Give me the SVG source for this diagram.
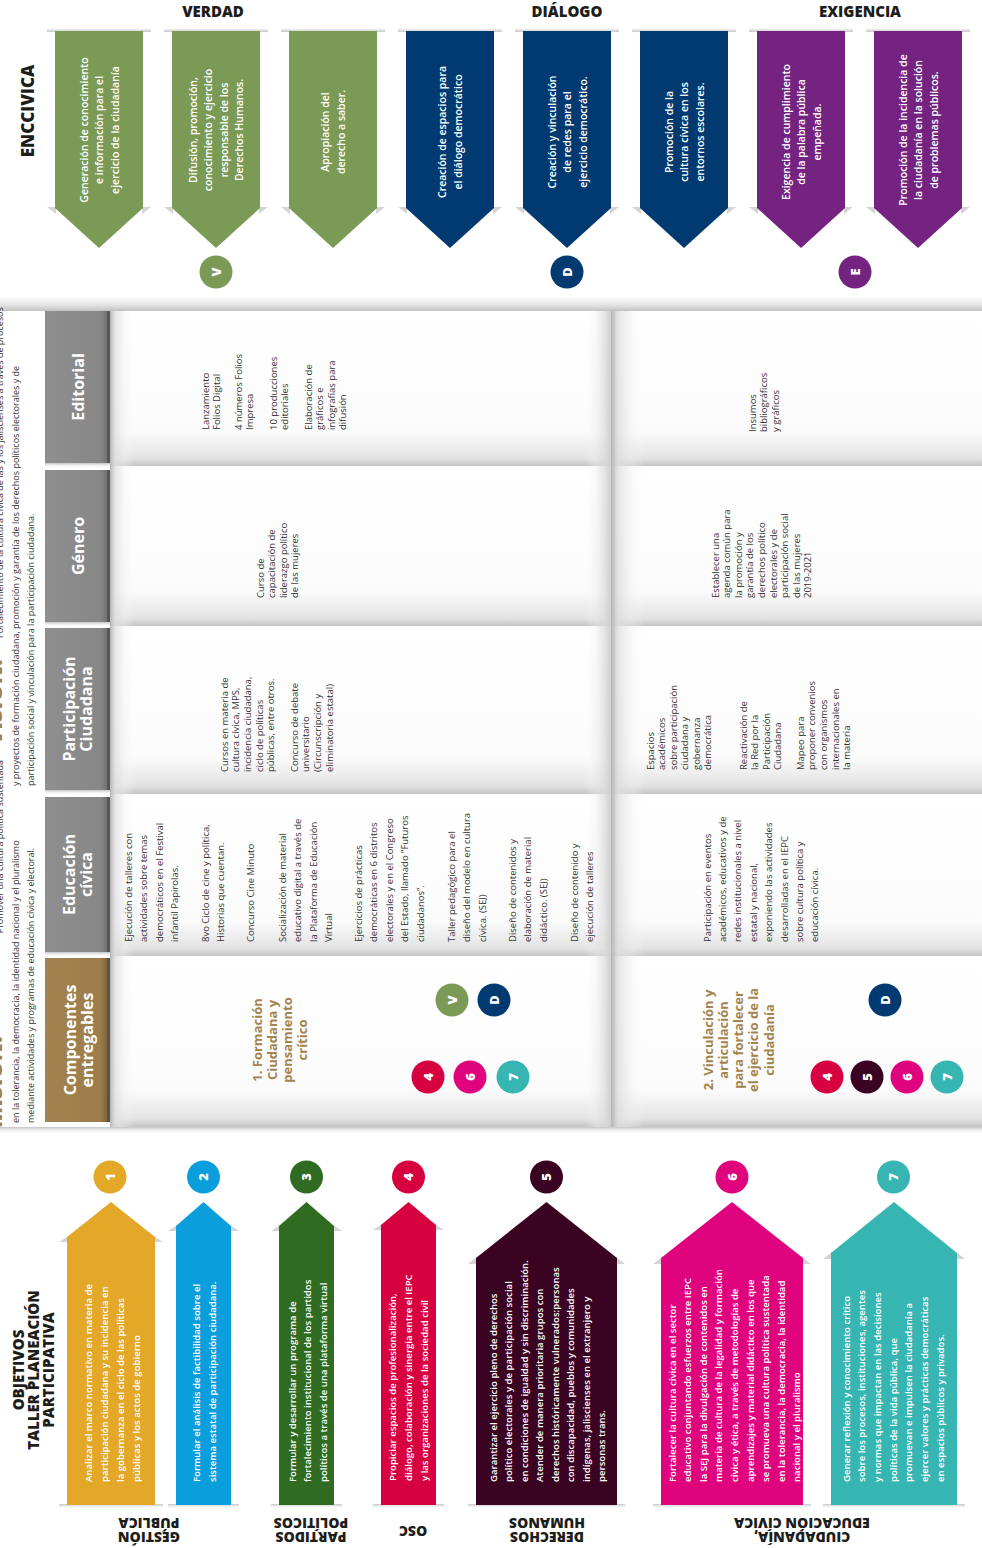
<svg xmlns="http://www.w3.org/2000/svg" width="982" height="1548" viewBox="0 0 982 1548">
<defs>
<style>
text{font-family:'Open Sans','Liberation Sans',sans-serif}
.ttl{font-size:15px;font-weight:800;fill:#1d1d1b;text-anchor:middle}
.ban{font-size:10.5px;font-weight:600;fill:#fff;text-anchor:middle}
.hdr{font-size:16px;font-weight:700;fill:#fff;text-anchor:middle}
.cell{font-size:9.5px;fill:#333}
.comp{font-size:13px;font-weight:700;fill:#a3844f;text-anchor:middle}
.obj{font-size:9.6px;font-weight:600;fill:#fff}
.num{font-size:13px;font-weight:800;fill:#fff;text-anchor:middle}
.lbl{font-size:14px;font-weight:800;fill:#1d1d1b;text-anchor:middle}
.mv{font-size:9px;fill:#333}
.mvb{font-size:22px;font-weight:800;fill:#a0804f}
.gr{fill:#7b9a55}.bl{fill:#003a70}.pu{fill:#752380}
.c1{fill:#e3a827}.c2{fill:#0b9edd}.c3{fill:#2f6b21}.c4{fill:#d7013f}.c5{fill:#3a0321}.c6{fill:#df047d}.c7{fill:#37b5b2}
.fold{fill:url(#foldG)}
.wing{fill:#d4d4d4}
.shd{fill:url(#shdG)}
.hbox{fill:url(#hdrG)}
.row{fill:url(#rowG)}
.edgeL{fill:url(#edgeLG)}
.edgeR{fill:url(#edgeRG)}
.hedge{fill:#4d4d4d;opacity:.7}
</style>
<linearGradient id="foldG" x1="0" y1="0" x2="0" y2="1"><stop offset="0" stop-color="#fff"/><stop offset="1" stop-color="#c8c8c8"/></linearGradient>
<linearGradient id="shdG" x1="0" y1="0" x2="0" y2="1"><stop offset="0" stop-color="#c4c4c4"/><stop offset="1" stop-color="#fff" stop-opacity="0"/></linearGradient>
<linearGradient id="topG" x1="0" y1="0" x2="0" y2="1"><stop offset="0" stop-color="#fff"/><stop offset="0.6" stop-color="#e4e4e4"/><stop offset="1" stop-color="#c2c2c2"/></linearGradient>
<linearGradient id="rowG" x1="0" y1="0" x2="0" y2="1"><stop offset="0" stop-color="#fff"/><stop offset="0.78" stop-color="#fbfbfb"/><stop offset="0.95" stop-color="#e3e3e3"/><stop offset="1" stop-color="#c4c4c4"/></linearGradient>
<linearGradient id="edgeLG" x1="0" y1="0" x2="1" y2="0"><stop offset="0" stop-color="#b4b4b4"/><stop offset="0.2" stop-color="#dcdcdc" stop-opacity="0.8"/><stop offset="1" stop-color="#fff" stop-opacity="0"/></linearGradient>
<linearGradient id="edgeRG" x1="0" y1="0" x2="1" y2="0"><stop offset="0" stop-color="#fff" stop-opacity="0"/><stop offset="1" stop-color="#cfcfcf"/></linearGradient>
<linearGradient id="hdrG" x1="0" y1="0" x2="1" y2="0"><stop offset="0" stop-color="#8f8f8f"/><stop offset="0.85" stop-color="#878787"/><stop offset="1" stop-color="#6a6a6a"/></linearGradient>
<linearGradient id="compG" x1="0" y1="0" x2="1" y2="0"><stop offset="0" stop-color="#a3834f"/><stop offset="0.85" stop-color="#9c7d4b"/><stop offset="1" stop-color="#735b37"/></linearGradient>
<clipPath id="mvClip"><rect x="-60" y="300" width="120" height="830"/></clipPath>
</defs>
<rect x="0" y="0" width="982" height="1548" fill="#fff"/>

<!-- ENCCIVICA section -->
<g id="enccivica-title"><text transform="translate(34,111) rotate(-90)" style="font-size:17px;font-weight:800;fill:#1d1d1b;text-anchor:middle">ENCCIVICA</text></g>
<g id="group-titles">
<text class="ttl" x="213" y="17">VERDAD</text>
<text class="ttl" x="567" y="17">DIÁLOGO</text>
<text class="ttl" x="860" y="17">EXIGENCIA</text>
</g>

<g id="banner-1">
<rect class="fold" x="47" y="28" width="104" height="4"/>
<polygon class="wing" points="47,207 56,207 56,214"/><polygon class="wing" points="151,207 142,207 142,214"/>
<path class="gr" d="M55 31H143V208L99 248L55 208Z"/>
<text class="ban" transform="translate(87.5,130) rotate(-90)"><tspan x="0">Generación de conocimiento</tspan><tspan x="0" dy="15.5">e información para el</tspan><tspan x="0" dy="15.5">ejercicio de la ciudadanía</tspan></text>
</g>
<g id="banner-2">
<rect class="fold" x="164" y="28" width="104" height="4"/>
<polygon class="wing" points="164,207 173,207 173,214"/><polygon class="wing" points="268,207 259,207 259,214"/>
<path class="gr" d="M172 31H260V208L216 248L172 208Z"/>
<text class="ban" transform="translate(196.5,130) rotate(-90)"><tspan x="0">Difusión, promoción,</tspan><tspan x="0" dy="15.5">conocimiento y ejercicio</tspan><tspan x="0" dy="15.5">responsable de los</tspan><tspan x="0" dy="15.5">Derechos Humanos.</tspan></text>
</g>
<g id="banner-3">
<rect class="fold" x="281" y="28" width="104" height="4"/>
<polygon class="wing" points="281,207 290,207 290,214"/><polygon class="wing" points="385,207 376,207 376,214"/>
<path class="gr" d="M289 31H377V208L333 248L289 208Z"/>
<text class="ban" transform="translate(329,132) rotate(-90)"><tspan x="0">Apropiación del</tspan><tspan x="0" dy="15.5">derecho a saber.</tspan></text>
</g>
<g id="banner-4">
<rect class="fold" x="398" y="28" width="104" height="4"/>
<polygon class="wing" points="398,207 407,207 407,214"/><polygon class="wing" points="502,207 493,207 493,214"/>
<path class="bl" d="M406 31H494V208L450 248L406 208Z"/>
<text class="ban" transform="translate(446,132) rotate(-90)"><tspan x="0">Creación de espacios para</tspan><tspan x="0" dy="15.5">el diálogo democrático</tspan></text>
</g>
<g id="banner-5">
<rect class="fold" x="515" y="28" width="104" height="4"/>
<polygon class="wing" points="515,207 524,207 524,214"/><polygon class="wing" points="619,207 610,207 610,214"/>
<path class="bl" d="M523 31H611V208L567 248L523 208Z"/>
<text class="ban" transform="translate(555.5,132) rotate(-90)"><tspan x="0">Creación y vinculación</tspan><tspan x="0" dy="15.5">de redes para el</tspan><tspan x="0" dy="15.5">ejercicio democrático.</tspan></text>
</g>
<g id="banner-6">
<rect class="fold" x="632" y="28" width="104" height="4"/>
<polygon class="wing" points="632,207 641,207 641,214"/><polygon class="wing" points="736,207 727,207 727,214"/>
<path class="bl" d="M640 31H728V208L684 248L640 208Z"/>
<text class="ban" transform="translate(672.5,132) rotate(-90)"><tspan x="0">Promoción de la</tspan><tspan x="0" dy="15.5">cultura cívica en los</tspan><tspan x="0" dy="15.5">entornos escolares.</tspan></text>
</g>
<g id="banner-7">
<rect class="fold" x="749" y="28" width="104" height="4"/>
<polygon class="wing" points="749,207 758,207 758,214"/><polygon class="wing" points="853,207 844,207 844,214"/>
<path class="pu" d="M757 31H845V208L801 248L757 208Z"/>
<text class="ban" transform="translate(789.5,132) rotate(-90)"><tspan x="0">Exigencia de cumplimiento</tspan><tspan x="0" dy="15.5">de la palabra pública</tspan><tspan x="0" dy="15.5">empeñada.</tspan></text>
</g>
<g id="banner-8">
<rect class="fold" x="866" y="28" width="104" height="4"/>
<polygon class="wing" points="866,207 875,207 875,214"/><polygon class="wing" points="970,207 961,207 961,214"/>
<path class="pu" d="M874 31H962V208L918 248L874 208Z"/>
<text class="ban" transform="translate(906.5,130) rotate(-90)"><tspan x="0">Promoción de la incidencia de</tspan><tspan x="0" dy="15.5">la ciudadanía en la solución</tspan><tspan x="0" dy="15.5">de problemas públicos.</tspan></text>
</g>
<g id="badge-v"><circle class="gr" cx="216" cy="272" r="16.5"/><text class="num" transform="translate(220.7,272) rotate(-90)">V</text></g>
<g id="badge-d"><circle class="bl" cx="567" cy="272" r="16.5"/><text class="num" transform="translate(571.7,272) rotate(-90)">D</text></g>
<g id="badge-e"><circle class="pu" cx="855" cy="272" r="16.5"/><text class="num" transform="translate(859.7,272) rotate(-90)">E</text></g>

<!-- Table background -->
<g id="table-bg">
<rect x="0" y="296" width="982" height="15" fill="url(#topG)"/>
<rect class="row" x="110" y="311" width="872" height="155"/>
<rect class="row" x="110" y="468" width="872" height="158"/>
<rect class="row" x="110" y="628" width="872" height="166"/>
<rect class="row" x="110" y="797" width="872" height="159"/>
<rect class="row" x="110" y="958" width="872" height="169"/>
<rect x="0" y="1127" width="982" height="7" class="shd"/>
<rect class="edgeR" x="585" y="311" width="26" height="816"/>
<rect class="edgeL" x="611" y="311" width="34" height="816"/>
<rect class="edgeL" x="110" y="311" width="24" height="816"/>
</g>

<!-- Mission / vision strip -->
<g id="mision-vision" clip-path="url(#mvClip)">
<text class="mvb" transform="translate(1.5,1128) rotate(-90)">MISIÓN:</text>
<text class="mv" transform="translate(3,760) rotate(-90)" text-anchor="end">Promover una cultura política sustentada</text>
<text class="mv" transform="translate(18.5,1123) rotate(-90)">en la tolerancia, la democracia, la identidad nacional y el pluralismo</text>
<text class="mv" transform="translate(33.5,1123) rotate(-90)">mediante actividades y programas de educación cívica y electoral.</text>
<text class="mvb" transform="translate(1.5,745) rotate(-90)">VISIÓN:</text>
<text class="mv" transform="translate(3,638) rotate(-90)">Fortalecimiento de la cultura cívica de las y los jaliscienses a través de procesos</text>
<text class="mv" transform="translate(18.5,786) rotate(-90)">y proyectos de formación ciudadana, promoción y garantía de los derechos políticos electorales y de</text>
<text class="mv" transform="translate(33.5,786) rotate(-90)">participación social y vinculación para la participación ciudadana.</text>
</g>

<!-- Row headers -->
<g id="hdr-editorial">
<rect class="hbox" x="45" y="311" width="65" height="152"/><rect class="hedge" x="107" y="311" width="3" height="152"/>
<rect class="shd" x="45" y="463" width="65" height="5"/>
<text class="hdr" transform="translate(83.8,387) rotate(-90)">Editorial</text>
</g>
<g id="hdr-genero">
<rect class="hbox" x="45" y="470" width="65" height="152"/><rect class="hedge" x="107" y="470" width="3" height="152"/>
<rect class="shd" x="45" y="622" width="65" height="5"/>
<text class="hdr" transform="translate(83.8,546) rotate(-90)">Género</text>
</g>
<g id="hdr-participacion">
<rect class="hbox" x="45" y="628" width="65" height="162"/><rect class="hedge" x="107" y="628" width="3" height="162"/>
<rect class="shd" x="45" y="790" width="65" height="5"/>
<text class="hdr" transform="translate(74.8,709) rotate(-90)"><tspan x="0">Participación</tspan><tspan x="0" dy="17">Ciudadana</tspan></text>
</g>
<g id="hdr-educacion">
<rect class="hbox" x="45" y="797" width="65" height="155"/><rect class="hedge" x="107" y="797" width="3" height="155"/>
<rect class="shd" x="45" y="952" width="65" height="5"/>
<text class="hdr" transform="translate(74.8,874.5) rotate(-90)"><tspan x="0">Educación</tspan><tspan x="0" dy="17">cívica</tspan></text>
</g>
<g id="hdr-componentes">
<rect x="45" y="958" width="65" height="164" fill="url(#compG)"/><rect class="hedge" x="107" y="958" width="3" height="164"/>
<text class="hdr" transform="translate(75.8,1040) rotate(-90)"><tspan x="0">Componentes</tspan><tspan x="0" dy="17">entregables</tspan></text>
</g>

<!-- Cells -->
<g id="cell-editorial-1">
<text class="cell" transform="translate(208.5,430) rotate(-90)"><tspan x="0">Lanzamiento</tspan><tspan x="0" dy="11.5">Folios Digital</tspan></text>
<text class="cell" transform="translate(241.5,430) rotate(-90)"><tspan x="0">4 números Folios</tspan><tspan x="0" dy="11.5">Impresa</tspan></text>
<text class="cell" transform="translate(276.5,430) rotate(-90)"><tspan x="0">10 producciones</tspan><tspan x="0" dy="11.5">editoriales</tspan></text>
<text class="cell" transform="translate(311.5,430) rotate(-90)"><tspan x="0">Elaboración de</tspan><tspan x="0" dy="11.5">gráficos e</tspan><tspan x="0" dy="11.5">infografías para</tspan><tspan x="0" dy="11.5">difusión</tspan></text>
</g>
<g id="cell-editorial-2">
<text class="cell" transform="translate(755.5,432) rotate(-90)"><tspan x="0">Insumos</tspan><tspan x="0" dy="11.5">bibliográficos</tspan><tspan x="0" dy="11.5">y gráficos</tspan></text>
</g>
<g id="cell-genero-1">
<text class="cell" transform="translate(263.5,598) rotate(-90)"><tspan x="0">Curso de</tspan><tspan x="0" dy="11.6">capacitación de</tspan><tspan x="0" dy="11.6">liderazgo político</tspan><tspan x="0" dy="11.6">de las mujeres</tspan></text>
</g>
<g id="cell-genero-2">
<text class="cell" transform="translate(718.5,598) rotate(-90)"><tspan x="0">Establecer una</tspan><tspan x="0" dy="11.6">agenda común para</tspan><tspan x="0" dy="11.6">la promoción y</tspan><tspan x="0" dy="11.6">garantía de los</tspan><tspan x="0" dy="11.6">derechos político</tspan><tspan x="0" dy="11.6">electorales y de</tspan><tspan x="0" dy="11.6">participación social</tspan><tspan x="0" dy="11.6">de las mujeres</tspan><tspan x="0" dy="11.6">2019-2021</tspan></text>
</g>
<g id="cell-participacion-1">
<text class="cell" transform="translate(227.5,772) rotate(-90)"><tspan x="0">Cursos en materia de</tspan><tspan x="0" dy="11.7">cultura cívica, MPS,</tspan><tspan x="0" dy="11.7">incidencia ciudadana,</tspan><tspan x="0" dy="11.7">ciclo de políticas</tspan><tspan x="0" dy="11.7">públicas, entre otros.</tspan></text>
<text class="cell" transform="translate(297.5,772) rotate(-90)"><tspan x="0">Concurso de debate</tspan><tspan x="0" dy="11.7">universitario</tspan><tspan x="0" dy="11.7">(Circunscripción y</tspan><tspan x="0" dy="11.7">eliminatoria estatal)</tspan></text>
</g>
<g id="cell-participacion-2">
<text class="cell" transform="translate(653.5,770) rotate(-90)"><tspan x="0">Espacios</tspan><tspan x="0" dy="11.5">académicos</tspan><tspan x="0" dy="11.5">sobre participación</tspan><tspan x="0" dy="11.5">ciudadana y</tspan><tspan x="0" dy="11.5">gobernanza</tspan><tspan x="0" dy="11.5">democrática</tspan></text>
<text class="cell" transform="translate(746.5,770) rotate(-90)"><tspan x="0">Reactivación de</tspan><tspan x="0" dy="11.5">la Red por la</tspan><tspan x="0" dy="11.5">Participación</tspan><tspan x="0" dy="11.5">Ciudadana</tspan></text>
<text class="cell" transform="translate(803.5,770) rotate(-90)"><tspan x="0">Mapeo para</tspan><tspan x="0" dy="11.7">proponer convenios</tspan><tspan x="0" dy="11.7">con organismos</tspan><tspan x="0" dy="11.7">internacionales en</tspan><tspan x="0" dy="11.7">la materia</tspan></text>
</g>
<g id="cell-educacion-1">
<text class="cell" transform="translate(131.5,942) rotate(-90)"><tspan x="0">Ejecución de talleres con</tspan><tspan x="0" dy="15.6">actividades sobre temas</tspan><tspan x="0" dy="15.6">democráticos en el Festival</tspan><tspan x="0" dy="15.6">infantil Papirolas.</tspan></text>
<text class="cell" transform="translate(208.5,942) rotate(-90)"><tspan x="0">8vo Ciclo de cine y política,</tspan><tspan x="0" dy="15.6">Historias que cuentan.</tspan></text>
<text class="cell" transform="translate(253.5,942) rotate(-90)">Concurso Cine Minuto</text>
<text class="cell" transform="translate(285.5,942) rotate(-90)"><tspan x="0">Socialización de material</tspan><tspan x="0" dy="15.6">educativo digital a través de</tspan><tspan x="0" dy="15.6">la Plataforma de Educación</tspan><tspan x="0" dy="15.6">Virtual</tspan></text>
<text class="cell" transform="translate(361.5,942) rotate(-90)"><tspan x="0">Ejercicios de prácticas</tspan><tspan x="0" dy="15.6">democráticas en 6 distritos</tspan><tspan x="0" dy="15.6">electorales y en el Congreso</tspan><tspan x="0" dy="15.6">del Estado, llamado “Futuros</tspan><tspan x="0" dy="15.6">ciudadanos”.</tspan></text>
<text class="cell" transform="translate(454.5,942) rotate(-90)"><tspan x="0">Taller pedagógico para el</tspan><tspan x="0" dy="15.6">diseño del modelo en cultura</tspan><tspan x="0" dy="15.6">cívica. (SEJ)</tspan></text>
<text class="cell" transform="translate(515.5,942) rotate(-90)"><tspan x="0">Diseño de contenidos y</tspan><tspan x="0" dy="15.6">elaboración de material</tspan><tspan x="0" dy="15.6">didáctico. (SEJ)</tspan></text>
<text class="cell" transform="translate(577.5,942) rotate(-90)"><tspan x="0">Diseño de contenido y</tspan><tspan x="0" dy="15.6">ejecución de talleres</tspan></text>
</g>
<g id="cell-educacion-2">
<text class="cell" transform="translate(710.5,942) rotate(-90)"><tspan x="0">Participación en eventos</tspan><tspan x="0" dy="15.4">académicos, educativos y de</tspan><tspan x="0" dy="15.4">redes institucionales a nivel</tspan><tspan x="0" dy="15.4">estatal y nacional,</tspan><tspan x="0" dy="15.4">exponiendo las actividades</tspan><tspan x="0" dy="15.4">desarrolladas en el IEPC</tspan><tspan x="0" dy="15.4">sobre cultura política y</tspan><tspan x="0" dy="15.4">educación cívica.</tspan></text>
</g>

<!-- Components -->
<g id="component-1">
<text class="comp" transform="translate(261.5,1040) rotate(-90)"><tspan x="0">1. Formación</tspan><tspan x="0" dy="15.3">Ciudadana y</tspan><tspan x="0" dy="15.3">pensamiento</tspan><tspan x="0" dy="15.3">crítico</tspan></text>
<circle class="gr" cx="452" cy="1000" r="16.5"/><text class="num" transform="translate(456.7,1000) rotate(-90)">V</text>
<circle class="bl" cx="494" cy="1000" r="16.5"/><text class="num" transform="translate(498.7,1000) rotate(-90)">D</text>
<circle class="c4" cx="428" cy="1077" r="16.5"/><text class="num" transform="translate(432.7,1077) rotate(-90)">4</text>
<circle class="c6" cx="470" cy="1077" r="16.5"/><text class="num" transform="translate(474.7,1077) rotate(-90)">6</text>
<circle class="c7" cx="513" cy="1077" r="16.5"/><text class="num" transform="translate(517.7,1077) rotate(-90)">7</text>
</g>
<g id="component-2">
<text class="comp" transform="translate(712.5,1040) rotate(-90)"><tspan x="0">2. Vinculación y</tspan><tspan x="0" dy="15.3">articulación</tspan><tspan x="0" dy="15.3">para fortalecer</tspan><tspan x="0" dy="15.3">el ejercicio de la</tspan><tspan x="0" dy="15.3">ciudadanía</tspan></text>
<circle class="bl" cx="885" cy="1000" r="16.5"/><text class="num" transform="translate(889.7,1000) rotate(-90)">D</text>
<circle class="c4" cx="827" cy="1077" r="16.5"/><text class="num" transform="translate(831.7,1077) rotate(-90)">4</text>
<circle class="c5" cx="867" cy="1077" r="16.5"/><text class="num" transform="translate(871.7,1077) rotate(-90)">5</text>
<circle class="c6" cx="907" cy="1077" r="16.5"/><text class="num" transform="translate(911.7,1077) rotate(-90)">6</text>
<circle class="c7" cx="947" cy="1077" r="16.5"/><text class="num" transform="translate(951.7,1077) rotate(-90)">7</text>
</g>

<!-- Objectives -->
<g id="objetivos-title"><text transform="translate(23.5,1370) rotate(-90)" style="font-size:15px;font-weight:800;fill:#1d1d1b;text-anchor:middle"><tspan x="0">OBJETIVOS</tspan><tspan x="0" dy="15">TALLER PLANEACIÓN</tspan><tspan x="0" dy="15">PARTICIPATIVA</tspan></text></g>

<g id="objetivo-1">
<rect class="shd" x="59" y="1504" width="104" height="5"/>
<polygon class="wing" points="59,1242 68,1236 68,1242"/><polygon class="wing" points="163,1242 154,1236 154,1242"/>
<path class="c1" d="M67 1505V1237L111 1202L155 1237V1505Z"/>
<text class="obj" transform="translate(91.5,1482) rotate(-90)"><tspan x="0">Analizar el marco normativo en materia de</tspan><tspan x="0" dy="16.2">participación ciudadana y su incidencia en</tspan><tspan x="0" dy="16.2">la gobernanza en el ciclo de las políticas</tspan><tspan x="0" dy="16.2">públicas y los actos de gobierno</tspan></text>
<circle class="c1" cx="110" cy="1177" r="16.5"/><text class="num" transform="translate(114.7,1177) rotate(-90)">1</text>
</g>
<g id="objetivo-2">
<rect class="shd" x="168" y="1504" width="71" height="5"/>
<polygon class="wing" points="168,1231 177,1225 177,1231"/><polygon class="wing" points="239,1231 230,1225 230,1231"/>
<path class="c2" d="M176 1505V1226L203.5 1202L231 1226V1505Z"/>
<text class="obj" transform="translate(199.5,1482) rotate(-90)"><tspan x="0">Formular el análisis de factibilidad sobre el</tspan><tspan x="0" dy="16">sistema estatal de participación ciudadana.</tspan></text>
<circle class="c2" cx="203.5" cy="1177" r="16.5"/><text class="num" transform="translate(208.2,1177) rotate(-90)">2</text>
</g>
<g id="objetivo-3">
<rect class="shd" x="271" y="1504" width="71" height="5"/>
<polygon class="wing" points="271,1231 280,1225 280,1231"/><polygon class="wing" points="342,1231 333,1225 333,1231"/>
<path class="c3" d="M279 1505V1226L306.5 1202L334 1226V1505Z"/>
<text class="obj" transform="translate(295.5,1482) rotate(-90)"><tspan x="0">Formular y desarrollar un programa de</tspan><tspan x="0" dy="15.6">fortalecimiento institucional de los partidos</tspan><tspan x="0" dy="15.6">políticos a través de una plataforma virtual</tspan></text>
<circle class="c3" cx="306.5" cy="1177" r="16.5"/><text class="num" transform="translate(311.2,1177) rotate(-90)">3</text>
</g>
<g id="objetivo-4">
<rect class="shd" x="373" y="1504" width="71" height="5"/>
<polygon class="wing" points="373,1230 382,1224 382,1230"/><polygon class="wing" points="444,1230 435,1224 435,1230"/>
<path class="c4" d="M381 1505V1225L408.5 1202L436 1225V1505Z"/>
<text class="obj" transform="translate(395.5,1481) rotate(-90)"><tspan x="0">Propiciar espacios de profesionalización,</tspan><tspan x="0" dy="16">diálogo, colaboración y sinergia entre el IEPC</tspan><tspan x="0" dy="16">y las organizaciones de la sociedad civil</tspan></text>
<circle class="c4" cx="408.5" cy="1177" r="16.5"/><text class="num" transform="translate(413.2,1177) rotate(-90)">4</text>
</g>
<g id="objetivo-5">
<rect class="shd" x="468" y="1504" width="157" height="5"/>
<polygon class="wing" points="468,1264 477,1257 477,1264"/><polygon class="wing" points="625,1264 616,1257 616,1264"/>
<path class="c5" d="M476 1505V1258L546.5 1202L617 1258V1505Z"/>
<text class="obj" transform="translate(496.5,1482) rotate(-90)"><tspan x="0">Garantizar el ejercicio pleno de derechos</tspan><tspan x="0" dy="15.5">político electorales y de participación social</tspan><tspan x="0" dy="15.5">en condiciones de igualdad y sin discriminación.</tspan><tspan x="0" dy="15.5">Atender de manera prioritaria grupos con</tspan><tspan x="0" dy="15.5">derechos históricamente vulnerados:personas</tspan><tspan x="0" dy="15.5">con discapacidad, pueblos y comunidades</tspan><tspan x="0" dy="15.5">indígenas, jaliscienses en el extranjero y</tspan><tspan x="0" dy="15.5">personas trans.</tspan></text>
<circle class="c5" cx="546.5" cy="1177" r="16.5"/><text class="num" transform="translate(551.2,1177) rotate(-90)">5</text>
</g>
<g id="objetivo-6">
<rect class="shd" x="653" y="1504" width="158" height="5"/>
<polygon class="wing" points="653,1264 662,1257 662,1264"/><polygon class="wing" points="811,1264 802,1257 802,1264"/>
<path class="c6" d="M661 1505V1258L732 1202L803 1258V1505Z"/>
<text class="obj" transform="translate(675.5,1482) rotate(-90)"><tspan x="0">Fortalecer la cultura cívica en el sector</tspan><tspan x="0" dy="15.6">educativo conjuntando esfuerzos entre IEPC</tspan><tspan x="0" dy="15.6">la SEJ para la divulgación de contenidos en</tspan><tspan x="0" dy="15.6">materia de cultura de la legalidad y formación</tspan><tspan x="0" dy="15.6">cívica y ética, a través de metodologías de</tspan><tspan x="0" dy="15.6">aprendizajes y material didáctico en los que</tspan><tspan x="0" dy="15.6">se promueva una cultura política sustentada</tspan><tspan x="0" dy="15.6">en la tolerancia, la democracia, la identidad</tspan><tspan x="0" dy="15.6">nacional y el pluralismo</tspan></text>
<circle class="c6" cx="732" cy="1177" r="16.5"/><text class="num" transform="translate(736.7,1177) rotate(-90)">6</text>
</g>
<g id="objetivo-7">
<rect class="shd" x="823" y="1504" width="142" height="5"/>
<polygon class="wing" points="823,1259 832,1252 832,1259"/><polygon class="wing" points="965,1259 956,1252 956,1259"/>
<path class="c7" d="M831 1505V1253L894 1202L957 1253V1505Z"/>
<text class="obj" transform="translate(849.5,1482) rotate(-90)"><tspan x="0">Generar reflexión y conocimiento crítico</tspan><tspan x="0" dy="15.7">sobre los procesos, instituciones, agentes</tspan><tspan x="0" dy="15.7">y normas que impactan en las decisiones</tspan><tspan x="0" dy="15.7">políticas de la vida pública, que</tspan><tspan x="0" dy="15.7">promuevan e impulsen la ciudadanía a</tspan><tspan x="0" dy="15.7">ejercer valores y prácticas democráticas</tspan><tspan x="0" dy="15.7">en espacios públicos y privados.</tspan></text>
<circle class="c7" cx="893.5" cy="1177" r="16.5"/><text class="num" transform="translate(898.2,1177) rotate(-90)">7</text>
</g>

<g id="labels-bottom">
<text class="lbl" transform="translate(149,1532) rotate(180)"><tspan x="0">GESTIÓN</tspan><tspan x="0" dy="14">PÚBLICA</tspan></text>
<text class="lbl" transform="translate(311,1532) rotate(180)"><tspan x="0">PARTIDOS</tspan><tspan x="0" dy="14">POLÍTICOS</tspan></text>
<text class="lbl" transform="translate(413,1526) rotate(180)">OSC</text>
<text class="lbl" transform="translate(547,1532) rotate(180)"><tspan x="0">DERECHOS</tspan><tspan x="0" dy="14">HUMANOS</tspan></text>
<text class="lbl" transform="translate(802,1532) rotate(180)"><tspan x="0">CIUDADANÍA,</tspan><tspan x="0" dy="14">EDUCACIÓN CÍVICA</tspan></text>
</g>

<g id="connectors"/>
</svg>
